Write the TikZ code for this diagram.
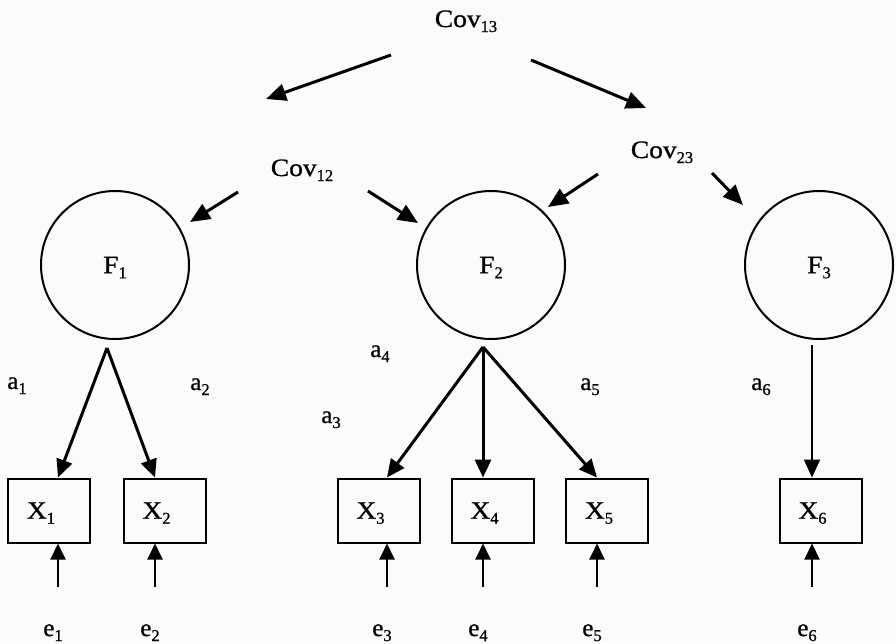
\documentclass[tikz,border=0pt]{standalone}
\usepackage{fontspec}
\setmainfont{Liberation Serif}[FakeBold=0.9]
\newfontfamily\widefont{Liberation Serif}[FakeStretch=1.1,FakeBold=0.9]
\usetikzlibrary{arrows.meta}
% lowered subscript that does not change the height of the label
\newcommand\lowsub[1]{\raisebox{-5pt}[0pt][0pt]{\fontsize{16.5}{16.5}\selectfont #1}}
\newcommand\wide[1]{{\widefont #1}}

\begin{document}
\begin{tikzpicture}[x=1pt,y=-1pt,
  txt/.style={font=\fontsize{25}{29}\selectfont, inner sep=0pt, anchor=base},
  factor/.style={draw, circle, line width=2pt, minimum size=148pt, inner sep=0pt,
    font=\fontsize{25}{29}\selectfont},
  % box labels sit a little left of the box centre
  indicator/.style={draw, rectangle, line width=2pt, minimum width=82pt,
    minimum height=64pt, inner sep=0pt, font=\fontsize{25}{29}\selectfont,
    execute at end node={\hspace*{16pt}}},
  covarrow/.style={line width=3pt, -{Triangle[length=20pt,width=17pt]}},
  loadarrow/.style={line width=3pt, -{Triangle[length=18pt,width=16pt]}},
  thinload/.style={line width=2pt, -{Triangle[length=18pt,width=16pt]}},
  errarrow/.style={line width=2pt, -{Triangle[length=16pt,width=15pt]}},
]
% page background
\fill[gray!3] (0,0) rectangle (896,643);
\useasboundingbox (0,0) rectangle (896,643);

% covariances
\node[txt] (cov13) at (466,27)  {\wide{Cov}\lowsub{13}};
\node[txt] (cov12) at (302,176) {\wide{Cov}\lowsub{12}};
\node[txt] (cov23) at (662,158) {\wide{Cov}\lowsub{23}};

% latent factors
\node[factor] (f1) at (115,265) {\wide{F}\lowsub{1}};
\node[factor] (f2) at (491,265) {\wide{F}\lowsub{2}};
\node[factor] (f3) at (819,265) {\wide{F}\lowsub{3}};

% observed indicators
\node[indicator] (x1) at (49,510.5)  {\wide{X}\lowsub{1}};
\node[indicator] (x2) at (164.5,510.5) {\wide{X}\lowsub{2}};
\node[indicator] (x3) at (378.5,510.5) {\wide{X}\lowsub{3}};
\node[indicator] (x4) at (492.5,510.5) {\wide{X}\lowsub{4}};
\node[indicator] (x5) at (607,510.5) {\wide{X}\lowsub{5}};
\node[indicator] (x6) at (820.5,510.5) {\wide{X}\lowsub{6}};

% loadings
\node[txt] (a1) at (17,389)  {a\lowsub{1}};
\node[txt] (a2) at (200,390) {a\lowsub{2}};
\node[txt] (a3) at (331,423) {a\lowsub{3}};
\node[txt] (a4) at (380,357) {a\lowsub{4}};
\node[txt] (a5) at (590,390) {a\lowsub{5}};
\node[txt] (a6) at (761,390) {a\lowsub{6}};

% error terms
\node[txt] (e1) at (53,636)  {e\lowsub{1}};
\node[txt] (e2) at (150,636) {e\lowsub{2}};
\node[txt] (e3) at (382,636) {e\lowsub{3}};
\node[txt] (e4) at (478,636) {e\lowsub{4}};
\node[txt] (e5) at (592,636) {e\lowsub{5}};
\node[txt] (e6) at (807,636) {e\lowsub{6}};

% covariance arrow ends
\coordinate (c13a) at (391,55);  \coordinate (c13b) at (266,99);
\coordinate (c13c) at (531,60);  \coordinate (c13d) at (646,108);
\coordinate (c12a) at (238,192); \coordinate (c12b) at (190,222);
\coordinate (c12c) at (368,191); \coordinate (c12d) at (418,223);
\coordinate (c23a) at (598,174); \coordinate (c23b) at (548,207);
\coordinate (c23c) at (712,173); \coordinate (c23d) at (743,205);

\draw[covarrow] (c13a) -- (c13b);
\draw[covarrow] (c13c) -- (c13d);
\draw[covarrow] (c12a) -- (c12b);
\draw[covarrow] (c12c) -- (c12d);
\draw[covarrow] (c23a) -- (c23b);
\draw[covarrow] (c23c) -- (c23d);

% loading origins just below each factor
\coordinate (f1o) at (107,348);
\coordinate (f2o) at (483,347);
\coordinate (f3o) at (812,345);

% error arrow starts
\coordinate (e1s) at (58,587);
\coordinate (e2s) at (155,587);
\coordinate (e3s) at (387,587);
\coordinate (e4s) at (483,587);
\coordinate (e5s) at (597,587);
\coordinate (e6s) at (812,587);

\draw[loadarrow] (f1o) -- (x1.north -| e1s);
\draw[loadarrow] (f1o) -- (x2.north -| e2s);
\draw[loadarrow] (f2o) -- (x3.north -| e3s);
\draw[loadarrow] (f2o) -- (x4.north -| e4s);
\draw[loadarrow] (f2o) -- (x5.north -| e5s);
\draw[thinload]  (f3o) -- (x6.north -| e6s);

\draw[errarrow] (e1s) -- (x1.south -| e1s);
\draw[errarrow] (e2s) -- (x2.south -| e2s);
\draw[errarrow] (e3s) -- (x3.south -| e3s);
\draw[errarrow] (e4s) -- (x4.south -| e4s);
\draw[errarrow] (e5s) -- (x5.south -| e5s);
\draw[errarrow] (e6s) -- (x6.south -| e6s);
\end{tikzpicture}
\end{document}
